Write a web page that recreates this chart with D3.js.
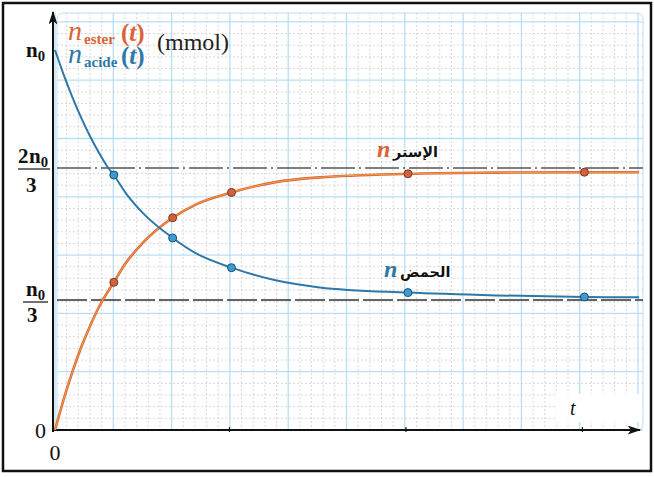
<!DOCTYPE html>
<html>
<head>
<meta charset="utf-8">
<style>
  body { margin: 0; background: #fff; }
  svg { display: block; }
  text { font-family: "Liberation Serif", "DejaVu Serif", serif; }
  .ar { font-family: "DejaVu Sans", sans-serif; font-weight: bold; }
</style>
<script src="https://cdn.jsdelivr.net/npm/d3@7"></script>
</head>
<body>
<div id="chart"></div>
<script>
// time in arbitrary units (marked points at t = 1/3, 2/3, 1, 2, 3), amounts in units of n0
var acideCurveT = [0, 0.05, 0.1, 0.15, 0.2, 0.25, 0.3, 0.333, 0.4, 0.5, 0.667, 0.8, 1, 1.25, 1.5, 2, 2.5, 3, 3.31];
var acideCurveN = [1, 0.929, 0.865, 0.807, 0.755, 0.709, 0.668, 0.649, 0.604, 0.552, 0.49, 0.451, 0.415, 0.383, 0.365, 0.352, 0.345, 0.341, 0.34];
var esterCurveT = [0, 0.05, 0.1, 0.15, 0.2, 0.25, 0.333, 0.4, 0.5, 0.667, 0.8, 1, 1.25, 1.5, 2, 2.5, 3, 3.31];
var esterCurveN = [0, 0.08, 0.151, 0.214, 0.268, 0.316, 0.378, 0.426, 0.479, 0.541, 0.575, 0.605, 0.631, 0.643, 0.652, 0.655, 0.656, 0.656];
var pointT = [1/3, 2/3, 1, 2, 3];
var acidePointN = [0.649, 0.49, 0.415, 0.352, 0.341];
var esterPointN = [0.378, 0.541, 0.605, 0.652, 0.656];
var xTicks = [1, 2, 3];
var yTicks = [0, 1/3, 2/3, 1];

var W = 654, H = 477;
var orange = "#dc6236", blue = "#2d78a8";

var svg = d3.select("#chart").append("svg").attr("width", W).attr("height", H);

var x = d3.scaleLinear().domain([0, 3.315]).range([55, 640]);
// the printed figure is not quite linear, so use a piecewise scale through its marks
var y = d3.scaleLinear().domain(yTicks).range([430, 300, 168, 50]);

var defs = svg.append("defs");
defs.append("marker").attr("id", "arrow").attr("viewBox", "0 0 12 8")
    .attr("refX", 11).attr("refY", 4).attr("markerWidth", 14).attr("markerHeight", 9)
    .attr("markerUnits", "userSpaceOnUse").attr("orient", "auto")
  .append("path").attr("d", "M0,0 L12,4 L0,8 L3,4 Z").attr("fill", "#111");

// frame
svg.append("rect").attr("x", 3).attr("y", 3).attr("width", 648).attr("height", 468)
    .attr("fill", "#fff").attr("stroke", "#111").attr("stroke-width", 2.5);

// graph paper
var grid = svg.append("g");
var gx0 = 57, gx1 = 643, gy0 = 13, gy1 = 430, step = 58.3;
d3.range(gx0 - 2, gx1, step / 5).forEach(function(v, i) {
    grid.append("line").attr("x1", v).attr("x2", v).attr("y1", gy0).attr("y2", gy1)
        .attr("stroke", i % 5 == 0 ? "#b8def4" : "#cfcfcf")
        .attr("stroke-width", i % 5 == 0 ? 1.3 : 0.8)
        .attr("stroke-dasharray", i % 5 == 0 ? null : "2,2");
});
d3.range(gy1, gy0, -step / 5).forEach(function(v, i) {
    grid.append("line").attr("x1", gx0).attr("x2", gx1).attr("y1", v).attr("y2", v)
        .attr("stroke", i % 5 == 0 ? "#b8def4" : "#cfcfcf")
        .attr("stroke-width", i % 5 == 0 ? 1.3 : 0.8)
        .attr("stroke-dasharray", i % 5 == 0 ? null : "2,2");
});
grid.append("rect").attr("x", gx0).attr("y", gy0).attr("width", gx1 - gx0).attr("height", gy1 - gy0)
    .attr("rx", 6).attr("fill", "none").attr("stroke", "#b8def4").attr("stroke-width", 1);

// white box behind the t label
svg.append("rect").attr("x", 556).attr("y", 394).attr("width", 86).attr("height", 28).attr("fill", "#fff");

// asymptote guides
svg.append("line").attr("x1", 57).attr("x2", 643).attr("y1", y(2/3)).attr("y2", y(2/3))
    .attr("stroke", "#555").attr("stroke-width", 1.3).attr("stroke-dasharray", "34,4,2,4");
svg.append("line").attr("x1", 57).attr("x2", 643).attr("y1", y(1/3)).attr("y2", y(1/3))
    .attr("stroke", "#333").attr("stroke-width", 1.3).attr("stroke-dasharray", "30,4");

// axes
svg.append("line").attr("x1", x(0) - 2).attr("x2", x(0) - 2).attr("y1", y(0) + 2).attr("y2", 12)
    .attr("stroke", "#111").attr("stroke-width", 2).attr("marker-end", "url(#arrow)");
svg.append("line").attr("x1", x(0) - 3).attr("x2", x.range()[1]).attr("y1", y(0)).attr("y2", y(0))
    .attr("stroke", "#111").attr("stroke-width", 1.8).attr("marker-end", "url(#arrow)");
svg.append("g").selectAll("line").data(xTicks).enter().append("line")
    .attr("x1", d => x(d) - 2).attr("x2", d => x(d) - 2).attr("y1", y(0) - 3).attr("y2", y(0) + 2)
    .attr("stroke", "#111").attr("stroke-width", 1.2);

// curves
var line = d3.line().x(d => x(d[0])).y(d => y(d[1])).curve(d3.curveMonotoneX);
var esterData = d3.zip(esterCurveT, esterCurveN);
var acideData = d3.zip(acideCurveT, acideCurveN);
svg.append("path").datum(esterData).attr("d", line).attr("fill", "none")
    .attr("stroke", orange).attr("stroke-width", 2.6);
svg.append("path").datum(esterData).attr("d", line).attr("fill", "none")
    .attr("stroke", "#f3b24a").attr("stroke-width", 0.8);
svg.append("path").datum(acideData).attr("d", line).attr("fill", "none")
    .attr("stroke", blue).attr("stroke-width", 2);

svg.append("g").selectAll("circle").data(d3.zip(pointT, esterPointN)).enter().append("circle")
    .attr("cx", d => x(d[0])).attr("cy", d => y(d[1])).attr("r", 4)
    .attr("fill", "#d4603c").attr("stroke", "#7a3a25").attr("stroke-width", 1);
svg.append("g").selectAll("circle").data(d3.zip(pointT, acidePointN)).enter().append("circle")
    .attr("cx", d => x(d[0])).attr("cy", d => y(d[1])).attr("r", 4)
    .attr("fill", "#3b9bd3").attr("stroke", "#1e4f72").attr("stroke-width", 1);

// y labels
function nZero(g, xx, yy, size) {
    var t = g.append("text").attr("x", xx).attr("y", yy).attr("font-weight", "bold")
        .attr("font-size", size).attr("fill", "#111");
    t.append("tspan").text("n");
    t.append("tspan").attr("dy", 4).attr("font-size", size * 0.7).text("0");
    return t;
}
var yl = svg.append("g");
nZero(yl, 26, 57, 21);
// 2n0/3
yl.append("text").attr("x", 18).attr("y", 163).attr("font-weight", "bold").attr("font-size", 21)
    .attr("fill", "#111").text("2");
nZero(yl, 29, 163, 21);
yl.append("line").attr("x1", 18).attr("x2", 50).attr("y1", y(2/3) + 1).attr("y2", y(2/3) + 1)
    .attr("stroke", "#111").attr("stroke-width", 1.2);
yl.append("text").attr("x", 26).attr("y", 192).attr("font-weight", "bold").attr("font-size", 21)
    .attr("fill", "#111").text("3");
// n0/3
nZero(yl, 26, 296, 21);
yl.append("line").attr("x1", 23).attr("x2", 48).attr("y1", y(1/3) + 2).attr("y2", y(1/3) + 2)
    .attr("stroke", "#111").attr("stroke-width", 1.2);
yl.append("text").attr("x", 27).attr("y", 322).attr("font-weight", "bold").attr("font-size", 21)
    .attr("fill", "#111").text("3");
yl.append("text").attr("x", 46).attr("y", y(0) + 8).attr("text-anchor", "end").attr("font-size", 22)
    .attr("fill", "#111").text("0");
yl.append("text").attr("x", x(0)).attr("y", 460).attr("text-anchor", "middle").attr("font-size", 22)
    .attr("fill", "#111").text("0");
svg.append("text").attr("x", 570).attr("y", 415).attr("font-style", "italic").attr("font-size", 20)
    .attr("fill", "#111").text("t");

// legend
function legendRow(yy, sub, col) {
    svg.append("text").attr("x", 68).attr("y", yy).attr("fill", col)
        .attr("font-style", "italic").attr("font-size", 28).text("n");
    svg.append("text").attr("x", 84).attr("y", yy + 4).attr("fill", col)
        .attr("font-weight", "bold").attr("font-size", 15).text(sub);
    svg.append("text").attr("x", 121).attr("y", yy + 1).attr("fill", col)
        .attr("font-weight", "bold").attr("font-size", 25)
        .html('(<tspan font-style="italic">t</tspan>)');
}
legendRow(40, "ester", orange);
legendRow(63, "acide", blue);
svg.append("text").attr("x", 157).attr("y", 50).attr("font-size", 24).attr("fill", "#222").text("(mmol)");

// curve labels
svg.append("text").attr("x", 377).attr("y", 157).attr("font-style", "italic").attr("font-weight", "bold")
    .attr("font-size", 24).attr("fill", orange).text("n");
svg.append("text").attr("class", "ar").attr("x", 393).attr("y", 157).attr("font-size", 14.5)
    .attr("fill", "#111").attr("stroke", "#fff").attr("stroke-width", 3).attr("paint-order", "stroke")
    .text("الإستر");
svg.append("text").attr("x", 384).attr("y", 277).attr("font-style", "italic").attr("font-weight", "bold")
    .attr("font-size", 24).attr("fill", blue).text("n");
svg.append("text").attr("class", "ar").attr("x", 400).attr("y", 277).attr("font-size", 14.5)
    .attr("fill", "#111").attr("stroke", "#fff").attr("stroke-width", 3).attr("paint-order", "stroke")
    .text("الحمض");
</script>
</body>
</html>
